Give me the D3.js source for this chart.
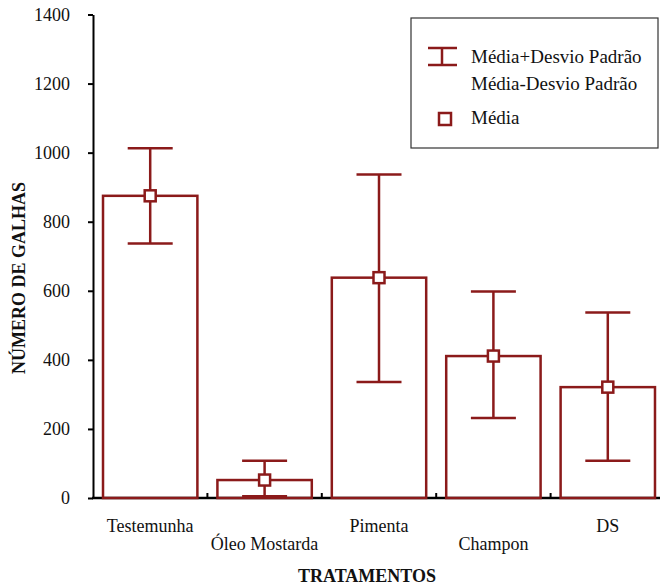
<!DOCTYPE html>
<html>
<head>
<meta charset="utf-8">
<script src="https://cdn.jsdelivr.net/npm/d3@7"></script>
<style>
html,body{margin:0;padding:0;background:#fff;}
svg{display:block;}
</style>
</head>
<body>
<svg id="chart" width="660" height="588"></svg>
<script>
// ---- data ----
const categories = ["Testemunha", "Óleo Mostarda", "Pimenta", "Champon", "DS"];
const means = [875, 52, 638, 411, 321];
const upper = [1013, 108, 937, 598, 537];
const lower = [737, 5, 336, 232, 108];
const yTicks = [0, 200, 400, 600, 800, 1000, 1200, 1400];
const legendLabels = ["Média+Desvio Padrão", "Média-Desvio Padrão", "Média"];
const xTitle = "TRATAMENTOS";
const yTitle = "NÚMERO DE GALHAS";

// ---- layout ----
const FONT = "Liberation Serif";
const red = "#8B1A1A";
const svg = d3.select("#chart");
const x0 = 93, x1 = 665, yTop = 14.5, yBot = 498;

const x = d3.scaleBand().domain(categories).range([x0, x1])
  .paddingInner(0.175).paddingOuter(0.0875);
const y = d3.scaleLinear().domain([0, 1400]).range([yBot, yTop]);

// y axis
const yAxis = svg.append("g").attr("transform", `translate(${x0},0)`)
  .call(d3.axisLeft(y).tickValues(yTicks).tickFormat(d => String(d))
    .tickSize(5).tickPadding(18).tickSizeOuter(0));
yAxis.select(".domain").attr("stroke", "#000").attr("stroke-width", 2);
yAxis.selectAll(".tick line").attr("stroke", "#000").attr("stroke-width", 2);
yAxis.selectAll(".tick text").style("font-size", "18px")
  .style("font-family", FONT).attr("fill", "#111");

// x axis line
svg.append("line").attr("x1", x0 - 1).attr("x2", 660).attr("y1", yBot).attr("y2", yBot)
  .attr("stroke", "#000").attr("stroke-width", 2.5);

// x ticks at band boundaries
const gap = (x.step() - x.bandwidth()) / 2;
svg.append("g").selectAll("line").data(categories.slice(1)).join("line")
  .attr("x1", d => x(d) - gap).attr("x2", d => x(d) - gap)
  .attr("y1", yBot).attr("y2", yBot - 5)
  .attr("stroke", "#000").attr("stroke-width", 2);

// category labels (alternating rows)
svg.append("g").selectAll("text").data(categories).join("text")
  .attr("x", d => x(d) + x.bandwidth() / 2)
  .attr("y", (d, i) => i % 2 === 0 ? 532 : 550)
  .attr("text-anchor", "middle")
  .style("font-family", FONT).style("font-size", "18px").attr("fill", "#111")
  .text(d => d);

// bars
const data = categories.map((c, i) => ({c, m: means[i], hi: upper[i], lo: lower[i]}));
svg.append("g").selectAll("rect").data(data).join("rect")
  .attr("x", d => x(d.c)).attr("width", x.bandwidth())
  .attr("y", d => y(d.m)).attr("height", d => yBot - y(d.m))
  .attr("fill", "none").attr("stroke", red).attr("stroke-width", 2.5);

// error bars
const cap = 22.5;
const eb = svg.append("g").attr("stroke", red).attr("stroke-width", 2.5);
data.forEach(d => {
  const cx = x(d.c) + x.bandwidth() / 2;
  eb.append("line").attr("x1", cx).attr("x2", cx).attr("y1", y(d.hi)).attr("y2", y(d.lo));
  eb.append("line").attr("x1", cx - cap).attr("x2", cx + cap).attr("y1", y(d.hi)).attr("y2", y(d.hi));
  eb.append("line").attr("x1", cx - cap).attr("x2", cx + cap).attr("y1", y(d.lo)).attr("y2", y(d.lo));
});

// mean markers
const ms = 11;
svg.append("g").selectAll("rect").data(data).join("rect")
  .attr("x", d => x(d.c) + x.bandwidth() / 2 - ms / 2)
  .attr("y", d => y(d.m) - ms / 2)
  .attr("width", ms).attr("height", ms)
  .attr("fill", "#fff").attr("stroke", red).attr("stroke-width", 2.5);

// axis titles
svg.append("text").attr("x", 367).attr("y", 582).attr("text-anchor", "middle")
  .style("font-family", FONT).style("font-size", "18px").style("font-weight", "bold")
  .attr("fill", "#111").text(xTitle);
svg.append("text").attr("transform", "translate(25,278) rotate(-90)")
  .attr("text-anchor", "middle")
  .style("font-family", FONT).style("font-size", "18px").style("font-weight", "bold")
  .attr("fill", "#111").text(yTitle);

// legend
const lg = svg.append("g");
lg.append("rect").attr("x", 411).attr("y", 18).attr("width", 247).attr("height", 130)
  .attr("fill", "#fff").attr("stroke", "#333").attr("stroke-width", 1.2);
const li = lg.append("g").attr("stroke", red).attr("stroke-width", 2.5);
li.append("line").attr("x1", 442).attr("x2", 442).attr("y1", 48).attr("y2", 65);
li.append("line").attr("x1", 428).attr("x2", 457).attr("y1", 48).attr("y2", 48);
li.append("line").attr("x1", 428).attr("x2", 457).attr("y1", 65).attr("y2", 65);
lg.append("rect").attr("x", 439).attr("y", 113).attr("width", 12).attr("height", 12)
  .attr("fill", "#fff").attr("stroke", red).attr("stroke-width", 2.5);
lg.selectAll("text.lt").data(legendLabels).join("text").attr("class", "lt")
  .attr("x", 471).attr("y", (d, i) => [63, 90, 124][i])
  .style("font-family", FONT).style("font-size", "19px").attr("fill", "#111")
  .text(d => d);
</script>
</body>
</html>
